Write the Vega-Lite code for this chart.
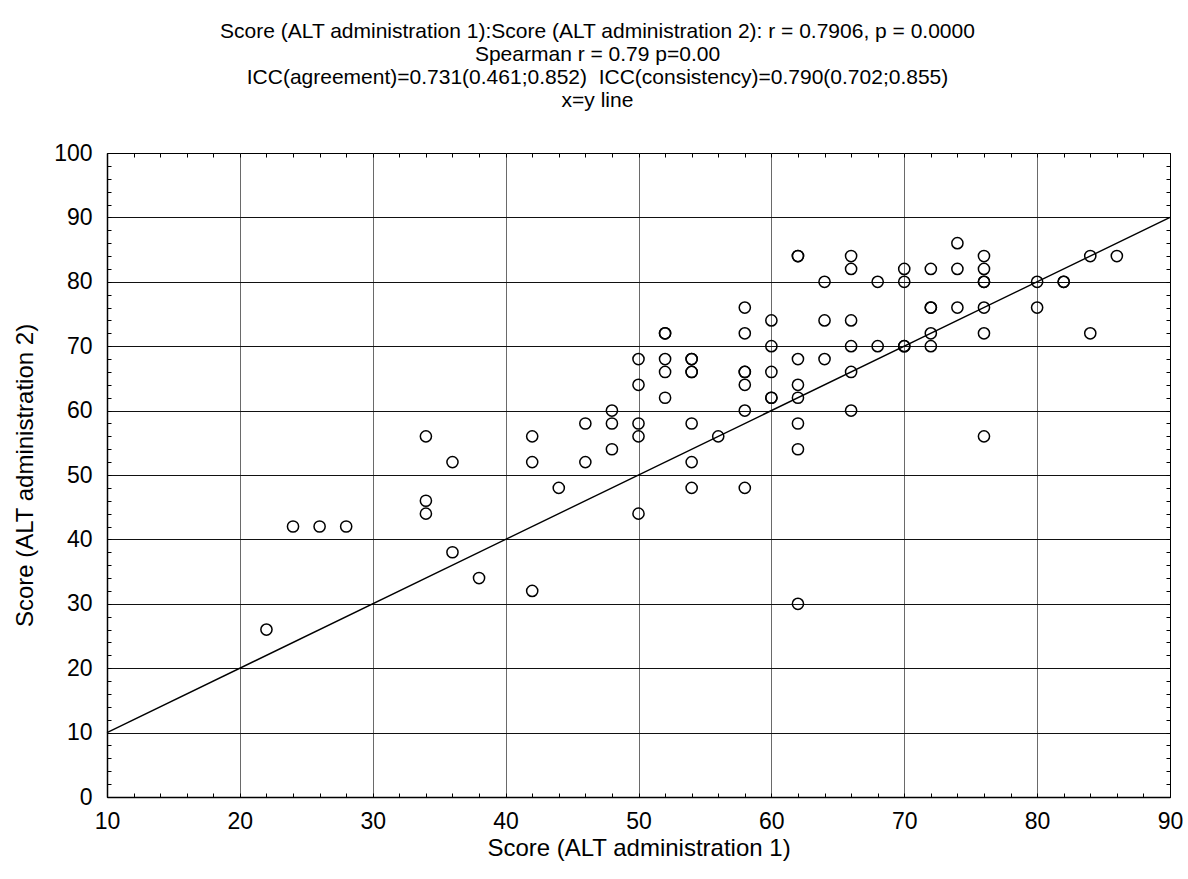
{
  "$schema": "https://vega.github.io/schema/vega-lite/v6.json",
  "width": 1063,
  "height": 644,
  "autosize": {"type": "none"},
  "padding": {"left": 107, "top": 153, "right": 18, "bottom": 82},
  "background": "white",
  "config": {
    "font": "Liberation Sans",
    "view": {"stroke": "black", "strokeWidth": 1}
  },
  "title": {
    "text": [
      "Score (ALT administration 1):Score (ALT administration 2): r = 0.7906, p = 0.0000",
      "Spearman r = 0.79 p=0.00",
      "ICC(agreement)=0.731(0.461;0.852)\u00a0 ICC(consistency)=0.790(0.702;0.855)",
      "x=y line"
    ],
    "anchor": "middle",
    "dx": -41,
    "offset": 31,
    "fontSize": 21,
    "lineHeight": 23,
    "fontWeight": "normal",
    "color": "black",
    "font": "Liberation Sans"
  },
  "resolve": {"axis": {"x": "independent", "y": "independent"}},
  "layer": [
    {
      "data": {
        "values": [
          {"a1": 22, "a2": 26},
          {"a1": 24, "a2": 42}, {"a1": 26, "a2": 42}, {"a1": 28, "a2": 42},
          {"a1": 34, "a2": 56}, {"a1": 34, "a2": 46}, {"a1": 34, "a2": 44},
          {"a1": 36, "a2": 52}, {"a1": 36, "a2": 38},
          {"a1": 38, "a2": 34},
          {"a1": 42, "a2": 56}, {"a1": 42, "a2": 52}, {"a1": 42, "a2": 32},
          {"a1": 44, "a2": 48},
          {"a1": 46, "a2": 58}, {"a1": 46, "a2": 52},
          {"a1": 48, "a2": 60}, {"a1": 48, "a2": 58}, {"a1": 48, "a2": 54},
          {"a1": 50, "a2": 68}, {"a1": 50, "a2": 64}, {"a1": 50, "a2": 58}, {"a1": 50, "a2": 56}, {"a1": 50, "a2": 44},
          {"a1": 52, "a2": 72}, {"a1": 52, "a2": 72}, {"a1": 52, "a2": 68}, {"a1": 52, "a2": 66}, {"a1": 52, "a2": 62},
          {"a1": 54, "a2": 68}, {"a1": 54, "a2": 68}, {"a1": 54, "a2": 66}, {"a1": 54, "a2": 66}, {"a1": 54, "a2": 58}, {"a1": 54, "a2": 52}, {"a1": 54, "a2": 48},
          {"a1": 56, "a2": 56},
          {"a1": 58, "a2": 76}, {"a1": 58, "a2": 72}, {"a1": 58, "a2": 66}, {"a1": 58, "a2": 66}, {"a1": 58, "a2": 64}, {"a1": 58, "a2": 60}, {"a1": 58, "a2": 48},
          {"a1": 60, "a2": 74}, {"a1": 60, "a2": 70}, {"a1": 60, "a2": 66}, {"a1": 60, "a2": 62}, {"a1": 60, "a2": 62},
          {"a1": 62, "a2": 84}, {"a1": 62, "a2": 84}, {"a1": 62, "a2": 68}, {"a1": 62, "a2": 64}, {"a1": 62, "a2": 62}, {"a1": 62, "a2": 58}, {"a1": 62, "a2": 54}, {"a1": 62, "a2": 30},
          {"a1": 64, "a2": 80}, {"a1": 64, "a2": 74}, {"a1": 64, "a2": 68},
          {"a1": 66, "a2": 84}, {"a1": 66, "a2": 82}, {"a1": 66, "a2": 74}, {"a1": 66, "a2": 70}, {"a1": 66, "a2": 66}, {"a1": 66, "a2": 60},
          {"a1": 68, "a2": 80}, {"a1": 68, "a2": 70},
          {"a1": 70, "a2": 82}, {"a1": 70, "a2": 80}, {"a1": 70, "a2": 70}, {"a1": 70, "a2": 70},
          {"a1": 72, "a2": 82}, {"a1": 72, "a2": 76}, {"a1": 72, "a2": 76}, {"a1": 72, "a2": 72}, {"a1": 72, "a2": 70},
          {"a1": 74, "a2": 86}, {"a1": 74, "a2": 82}, {"a1": 74, "a2": 76},
          {"a1": 76, "a2": 84}, {"a1": 76, "a2": 82}, {"a1": 76, "a2": 80}, {"a1": 76, "a2": 80}, {"a1": 76, "a2": 76}, {"a1": 76, "a2": 72}, {"a1": 76, "a2": 56},
          {"a1": 80, "a2": 80}, {"a1": 80, "a2": 76},
          {"a1": 82, "a2": 80}, {"a1": 82, "a2": 80},
          {"a1": 84, "a2": 84}, {"a1": 84, "a2": 72},
          {"a1": 86, "a2": 84}
        ]
      },
      "mark": {"type": "point", "shape": "circle", "filled": false, "stroke": "black", "strokeWidth": 1.5, "size": 125, "opacity": 1},
      "encoding": {
        "x": {
          "field": "a1", "type": "quantitative",
          "scale": {"domain": [10, 90], "nice": false, "zero": false},
          "axis": {
            "orient": "bottom",
            "title": "Score (ALT administration 1)",
            "titleFontSize": 24, "titleFontWeight": "normal", "titleColor": "black", "titlePadding": 3,
            "values": [10,12,14,16,18,20,22,24,26,28,30,32,34,36,38,40,42,44,46,48,50,52,54,56,58,60,62,64,66,68,70,72,74,76,78,80,82,84,86,88,90],
            "labelExpr": "datum.value % 10 === 0 ? datum.label : ''",
            "labelFontSize": 23, "labelColor": "black", "labelPadding": 17, "labelFlush": false, "labelOverlap": false,
            "tickSize": -4, "tickColor": "black", "tickWidth": 1,
            "domain": true, "domainColor": "black", "domainWidth": 1.5,
            "grid": true,
            "gridColor": "#6a6a6a", "gridWidth": 1,
            "gridOpacity": {"condition": {"test": "datum.value % 10 === 0 && datum.value > 10 && datum.value < 90", "value": 1}, "value": 0}
          }
        },
        "y": {
          "field": "a2", "type": "quantitative",
          "scale": {"domain": [0, 100], "nice": false, "zero": false},
          "axis": {
            "orient": "left",
            "title": "Score (ALT administration 2)",
            "titleFontSize": 24, "titleFontWeight": "normal", "titleColor": "black", "titlePadding": 16,
            "values": [0,2,4,6,8,10,12,14,16,18,20,22,24,26,28,30,32,34,36,38,40,42,44,46,48,50,52,54,56,58,60,62,64,66,68,70,72,74,76,78,80,82,84,86,88,90,92,94,96,98,100],
            "labelExpr": "datum.value % 10 === 0 ? datum.label : ''",
            "labelFontSize": 23, "labelColor": "black", "labelPadding": 19, "labelFlush": false, "labelOverlap": false,
            "tickSize": -4, "tickColor": "black", "tickWidth": 1,
            "domain": true, "domainColor": "black", "domainWidth": 1.5,
            "grid": true,
            "gridColor": "#111111", "gridWidth": 1,
            "gridOpacity": {"condition": {"test": "datum.value % 10 === 0 && datum.value > 0 && datum.value < 100", "value": 1}, "value": 0}
          }
        }
      }
    },
    {
      "data": {"values": [{"a1": 10, "a2": 10}, {"a1": 90, "a2": 90}]},
      "mark": {"type": "line", "color": "black", "strokeWidth": 1.4},
      "encoding": {
        "x": {
          "field": "a1", "type": "quantitative",
          "axis": {
            "orient": "top", "title": null, "labels": false, "grid": false, "domain": false,
            "values": [10,12,14,16,18,20,22,24,26,28,30,32,34,36,38,40,42,44,46,48,50,52,54,56,58,60,62,64,66,68,70,72,74,76,78,80,82,84,86,88,90],
            "tickSize": -4, "tickColor": "black", "tickWidth": 1
          }
        },
        "y": {
          "field": "a2", "type": "quantitative",
          "axis": {
            "orient": "right", "title": null, "labels": false, "grid": false, "domain": false,
            "values": [0,2,4,6,8,10,12,14,16,18,20,22,24,26,28,30,32,34,36,38,40,42,44,46,48,50,52,54,56,58,60,62,64,66,68,70,72,74,76,78,80,82,84,86,88,90,92,94,96,98,100],
            "tickSize": -4, "tickColor": "black", "tickWidth": 1
          }
        }
      }
    }
  ]
}
